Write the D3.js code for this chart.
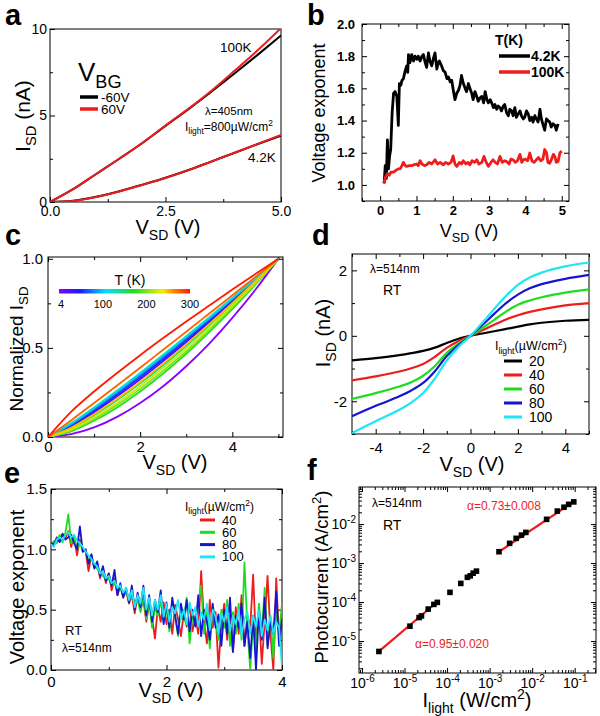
<!DOCTYPE html>
<html>
<head>
<meta charset="utf-8">
<script src="https://cdn.jsdelivr.net/npm/d3@7"></script>
<style>
  body { margin: 0; background: #fff; }
  svg text { font-family: "Liberation Sans", Arial, Helvetica, sans-serif; }
</style>
</head>
<body>
<div id="fig"></div>
<script>
// ---------- panel a : I-V at two gate voltages ----------
const aVsd = [0, 0.5, 1, 1.5, 2, 2.5, 3, 3.5, 4, 4.5, 5];
const a100Kneg = [0, 0.74, 1.62, 2.5, 3.41, 4.4, 5.37, 6.39, 7.44, 8.52, 9.62];
const a100Kpos = [0, 0.74, 1.62, 2.5, 3.42, 4.42, 5.4, 6.45, 7.6, 8.78, 10.05];
const a4Kneg = [0, 0.07, 0.3, 0.62, 1.0, 1.4, 1.85, 2.35, 2.85, 3.35, 3.84];
const a4Kpos = [0, 0.06, 0.29, 0.61, 0.99, 1.39, 1.84, 2.34, 2.85, 3.36, 3.88];

// ---------- panel b : voltage exponent ----------
const b4V = [0.11,0.14,0.17,0.20,0.23,0.26,0.29,0.33,0.37,0.41,0.46,0.50,0.53,0.57,0.60,0.64,0.69,0.73,0.76,0.78,0.82,0.87,0.92,0.96,1.01,1.05,1.10,1.15,1.19,1.24,1.28,1.33,1.37,1.42,1.47,1.51,1.56,1.60,1.63,1.69,1.74,1.79,1.84,1.88,1.93,1.97,2.02,2.06,2.11,2.16,2.20,2.24,2.29,2.34,2.38,2.43,2.47,2.52,2.56,2.61,2.66,2.70,2.75,2.80,2.85,2.89,2.94,2.98,3.03,3.07,3.12,3.16,3.21,3.25,3.30,3.34,3.39,3.43,3.48,3.53,3.57,3.62,3.66,3.71,3.75,3.80,3.85,3.89,3.94,3.98,4.03,4.08,4.12,4.17,4.21,4.26,4.30,4.35,4.40,4.44,4.49,4.53,4.58,4.62,4.67,4.71,4.76,4.81,4.85,4.90];
const b4E = [1.01,1.12,1.04,1.28,1.10,1.18,1.22,1.45,1.57,1.58,1.55,1.37,1.63,1.62,1.65,1.66,1.71,1.74,1.70,1.81,1.76,1.81,1.77,1.80,1.78,1.80,1.77,1.80,1.81,1.76,1.73,1.82,1.77,1.74,1.79,1.82,1.72,1.76,1.77,1.74,1.71,1.70,1.66,1.67,1.64,1.65,1.58,1.53,1.57,1.59,1.62,1.68,1.63,1.60,1.58,1.63,1.60,1.57,1.53,1.58,1.55,1.52,1.54,1.55,1.51,1.58,1.53,1.51,1.53,1.51,1.48,1.50,1.47,1.49,1.48,1.46,1.49,1.50,1.45,1.43,1.47,1.46,1.43,1.48,1.42,1.44,1.46,1.43,1.41,1.42,1.46,1.44,1.40,1.42,1.39,1.43,1.41,1.39,1.47,1.41,1.37,1.34,1.41,1.40,1.39,1.36,1.38,1.37,1.34,1.38];
const b100V = [0.10,0.15,0.20,0.25,0.30,0.37,0.43,0.50,0.55,0.60,0.64,0.69,0.73,0.80,0.88,0.92,1.00,1.05,1.10,1.15,1.22,1.28,1.35,1.42,1.51,1.58,1.65,1.74,1.80,1.88,1.95,2.01,2.06,2.11,2.18,2.24,2.29,2.36,2.42,2.47,2.53,2.60,2.66,2.72,2.80,2.86,2.92,2.98,3.05,3.11,3.17,3.23,3.30,3.36,3.42,3.48,3.55,3.60,3.66,3.72,3.78,3.85,3.90,3.94,4.00,4.06,4.12,4.18,4.24,4.30,4.36,4.42,4.48,4.53,4.58,4.62,4.67,4.72,4.77,4.81,4.85,4.90,4.95,5.00];
const b100E = [1.01,1.05,1.07,1.06,1.08,1.08,1.09,1.10,1.10,1.12,1.14,1.12,1.115,1.12,1.12,1.125,1.13,1.12,1.15,1.13,1.12,1.125,1.14,1.13,1.156,1.13,1.14,1.125,1.14,1.13,1.14,1.18,1.13,1.115,1.14,1.13,1.15,1.13,1.14,1.125,1.15,1.14,1.156,1.13,1.14,1.177,1.14,1.115,1.14,1.156,1.14,1.13,1.177,1.14,1.15,1.146,1.13,1.16,1.156,1.14,1.15,1.19,1.14,1.156,1.16,1.15,1.198,1.15,1.14,1.156,1.17,1.15,1.16,1.22,1.20,1.14,1.135,1.16,1.19,1.177,1.14,1.146,1.20,1.21];

// ---------- panel c : normalized I-V vs temperature ----------
const cVsd = [0, 0.5, 1, 1.5, 2, 2.5, 3, 3.5, 4, 4.5, 5];
const cTemps = [4, 25, 50, 75, 100, 125, 150, 175, 200, 225, 250, 275, 300];
const cNorm = [
  [0, 0.016, 0.054, 0.113, 0.191, 0.285, 0.397, 0.524, 0.668, 0.826, 1],
  [0, 0.059, 0.138, 0.228, 0.324, 0.426, 0.533, 0.645, 0.760, 0.878, 1],
  [0, 0.065, 0.147, 0.239, 0.336, 0.438, 0.545, 0.654, 0.767, 0.882, 1],
  [0, 0.069, 0.154, 0.247, 0.345, 0.447, 0.553, 0.661, 0.772, 0.885, 1],
  [0, 0.074, 0.162, 0.256, 0.355, 0.457, 0.561, 0.668, 0.777, 0.888, 1],
  [0, 0.077, 0.166, 0.261, 0.360, 0.462, 0.566, 0.672, 0.780, 0.889, 1],
  [0, 0.049, 0.122, 0.207, 0.301, 0.403, 0.512, 0.627, 0.747, 0.871, 1],
  [0, 0.032, 0.091, 0.166, 0.255, 0.356, 0.467, 0.588, 0.717, 0.855, 1],
  [0, 0.037, 0.100, 0.179, 0.270, 0.371, 0.481, 0.600, 0.727, 0.860, 1],
  [0, 0.043, 0.110, 0.192, 0.285, 0.387, 0.497, 0.614, 0.737, 0.866, 1],
  [0, 0.052, 0.128, 0.214, 0.309, 0.412, 0.520, 0.633, 0.751, 0.874, 1],
  [0, 0.093, 0.191, 0.289, 0.389, 0.490, 0.591, 0.693, 0.795, 0.897, 1],
  [0, 0.141, 0.255, 0.359, 0.459, 0.555, 0.648, 0.738, 0.827, 0.914, 1],
];
const cBarTicks = [4, 100, 200, 300];

// ---------- panel d : I-V vs light intensity ----------
const dVsd = [-5, -4, -3, -2.5, -2, -1.5, -1, -0.5, 0, 0.5, 1, 1.5, 2, 2.5, 3, 4, 5];
const dLight = [20, 40, 60, 80, 100];
const dCurrent = [
  [-0.75, -0.68, -0.59, -0.53, -0.46, -0.36, -0.22, -0.09, 0, 0.07, 0.14, 0.21, 0.28, 0.35, 0.40, 0.46, 0.49],
  [-1.36, -1.24, -1.09, -0.99, -0.86, -0.64, -0.37, -0.16, 0, 0.17, 0.34, 0.50, 0.63, 0.73, 0.81, 0.93, 1.0],
  [-1.93, -1.75, -1.55, -1.42, -1.22, -0.92, -0.52, -0.23, 0, 0.24, 0.49, 0.74, 0.95, 1.08, 1.18, 1.32, 1.42],
  [-2.46, -2.14, -1.85, -1.67, -1.44, -1.08, -0.62, -0.28, 0, 0.33, 0.67, 1.00, 1.26, 1.45, 1.58, 1.74, 1.86],
  [-2.97, -2.61, -2.26, -2.04, -1.75, -1.30, -0.75, -0.33, 0, 0.40, 0.82, 1.22, 1.56, 1.78, 1.93, 2.12, 2.24],
];
const lightColors = ['#000000', '#ee1c1c', '#1edc1e', '#1515d0', '#1ee6f5'];

// ---------- panel e : voltage exponent at RT (V step 0.05) ----------
const eStep = 0.05;
const eLight = [40, 60, 80, 100];
const eExp = [
  [1.06,1.03,1.10,1.08,1.12,1.09,1.15,1.02,1.12,0.95,
   1.08,1.00,0.98,0.82,0.95,0.85,0.88,0.76,0.84,0.72,
   0.80,0.66,0.76,0.62,0.70,0.60,0.66,0.55,0.62,0.47,
   0.62,0.50,0.58,0.40,0.55,0.44,0.26,0.52,0.40,0.56,
   0.38,0.50,0.30,0.54,0.42,0.28,0.48,0.36,0.55,0.32,
   0.44,0.30,0.82,0.40,0.22,0.58,0.35,0.48,0.02,0.38,
   0.55,0.25,0.45,0.15,0.52,0.30,0.62,0.20,0.45,0.35,
   0.79,0.22,0.48,0.05,0.40,0.78,0.30,0.00,0.76,0.25,0.45],
  [1.03,1.07,1.05,1.12,1.06,1.14,1.29,1.05,1.10,1.00,
   1.06,0.98,1.00,0.90,0.92,0.86,0.84,0.80,0.78,0.75,
   0.76,0.70,0.72,0.66,0.68,0.62,0.64,0.58,0.60,0.55,
   0.58,0.48,0.62,0.42,0.56,0.35,0.52,0.45,0.58,0.40,
   0.50,0.32,0.55,0.44,0.28,0.52,0.40,0.60,0.22,0.45,
   0.38,0.55,0.70,0.30,0.48,0.18,0.52,0.40,0.25,0.50,
   0.35,0.58,0.20,0.48,0.30,0.55,0.25,0.89,0.35,0.00,
   0.40,0.15,0.55,0.30,0.68,0.20,0.45,0.10,0.50,0.30,0.55],
  [1.05,1.04,1.09,1.06,1.13,1.08,1.10,1.12,1.05,1.00,
   1.19,0.98,1.00,0.88,0.96,0.84,0.90,0.78,0.86,0.74,
   0.80,0.70,0.83,0.62,0.72,0.60,0.68,0.56,0.70,0.50,
   0.64,0.52,0.70,0.45,0.62,0.40,0.58,0.48,0.66,0.38,
   0.56,0.35,0.60,0.45,0.30,0.55,0.42,0.58,0.32,0.50,
   0.36,0.62,0.28,0.50,0.40,0.25,0.55,0.35,0.46,0.20,
   0.50,0.30,0.60,0.15,0.45,0.35,0.55,0.20,0.40,0.10,
   0.45,0.00,0.50,0.25,0.60,0.18,0.40,0.30,0.65,0.20,0.42],
  [1.04,1.02,1.08,1.10,1.08,1.12,1.14,1.10,1.12,1.07,
   1.05,1.02,0.98,0.95,0.92,0.88,0.86,0.80,0.82,0.76,
   0.78,0.72,0.74,0.68,0.70,0.64,0.68,0.58,0.66,0.52,
   0.62,0.55,0.68,0.50,0.60,0.45,0.58,0.50,0.62,0.44,
   0.55,0.40,0.52,0.47,0.58,0.42,0.50,0.38,0.56,0.45,
   0.52,0.36,0.48,0.42,0.55,0.33,0.50,0.44,0.30,0.47,
   0.40,0.52,0.32,0.45,0.38,0.50,0.28,0.42,0.48,0.30,
   0.45,0.36,0.50,0.28,0.42,0.33,0.45,0.30,0.40,0.35,0.02],
];

// ---------- panel f : photocurrent vs intensity ----------
const fLight = [2.5e-6, 1.34e-5, 2.2e-5, 2.5e-5, 3.6e-5, 4.9e-5, 5.9e-5, 1.17e-4, 2.1e-4, 3.0e-4, 3.5e-4, 4.1e-4, 4.9e-4, 1.66e-3, 2.95e-3, 4.2e-3, 5.6e-3, 7.1e-3, 0.0218, 0.039, 0.056, 0.072, 0.095];
const fPhoto = [5.4e-6, 2.4e-5, 4.0e-5, 4.4e-5, 6.6e-5, 8.7e-5, 9.8e-5, 1.77e-4, 3.0e-4, 4.3e-4, 4.7e-4, 5.5e-4, 6.2e-4, 1.95e-3, 3.2e-3, 4.3e-3, 5.2e-3, 6.1e-3, 0.0132, 0.0215, 0.027, 0.032, 0.037];
const fFitLowX = [2.5e-6, 5.4e-5];
const fFitLowY = [5.4e-6, 9.3e-5];
const fFitHighX = [1.66e-3, 0.1];
const fFitHighY = [1.95e-3, 0.039];

const RED = '#ee1c1c';
const svg = d3.select('#fig').append('svg').attr('width', 600).attr('height', 716);

// text with sub/superscripts: parts = [[text], [text,'sub'], [text,'sup']]
function rich(sel, parts, size) {
  let cur = 0;
  parts.forEach(([t, k]) => {
    const off = k === 'sub' ? size * 0.28 : k === 'sup' ? -size * 0.4 : 0;
    sel.append('tspan').attr('dy', off - cur).attr('font-size', k ? size * 0.7 : size).text(t);
    cur = off;
  });
  return sel;
}

function txt(x, y, parts, size, o = {}) {
  const t = svg.append('text').attr('x', x).attr('y', y)
    .attr('text-anchor', o.anchor || 'start')
    .attr('fill', o.fill || '#000')
    .attr('font-weight', o.bold ? 'bold' : null);
  if (o.rotate) t.attr('transform', `rotate(-90,${x},${y})`);
  return rich(t, typeof parts === 'string' ? [[parts]] : parts, size);
}

function axesBox(g, x, y, w, h, o) {
  const none = () => '';
  const mk = (fn, scale, vals, len, fmt, pad, tr) => {
    const a = g.append('g').attr('transform', tr)
      .call(fn(scale).tickValues(vals).tickSize(-len).tickPadding(pad).tickFormat(fmt));
    a.select('.domain').remove();
    a.selectAll('.tick line').attr('stroke', '#000');
    a.selectAll('.tick text').attr('font-size', o.fs).attr('fill', '#000')
      .attr('font-weight', o.bold ? 'bold' : null);
    return a;
  };
  const xa = mk(d3.axisBottom, x, o.xMajor, 5, o.xFmt, o.xPad, `translate(0,${h})`);
  mk(d3.axisBottom, x, o.xMinor, 3, none, 0, `translate(0,${h})`);
  const ya = mk(d3.axisLeft, y, o.yMajor, 5, o.yFmt, o.yPad, null);
  mk(d3.axisLeft, y, o.yMinor, 3, none, 0, null);
  if (o.box) {
    mk(d3.axisTop, x, o.xMajor, 5, none, 0, null);
    mk(d3.axisTop, x, o.xMinor, 3, none, 0, null);
    mk(d3.axisRight, y, o.yMajor, 5, none, 0, `translate(${w},0)`);
    mk(d3.axisRight, y, o.yMinor, 3, none, 0, `translate(${w},0)`);
  }
  g.append('rect').attr('width', w).attr('height', h).attr('fill', 'none').attr('stroke', '#000');
  return { xa, ya };
}

let clipN = 0;
function panel(box, x, y, o) {
  x.range([0, box.w]);
  y.range([box.h, 0]);
  const g = svg.append('g').attr('transform', `translate(${box.left},${box.top})`);
  const id = 'clip' + (clipN++);
  g.append('clipPath').attr('id', id).append('rect').attr('width', box.w).attr('height', box.h);
  const ax = axesBox(g, x, y, box.w, box.h, o);
  const plot = g.append('g').attr('clip-path', `url(#${id})`);
  return { g, plot, ax };
}

const fmt1 = d3.format('.1f');
const plain = (d) => String(d);

// ================= a =================
{
  const x = d3.scaleLinear().domain([0, 5]);
  const y = d3.scaleLinear().domain([0, 10]);
  const p = panel({ left: 50, top: 29, w: 231, h: 173 }, x, y, {
    xMajor: [0, 2.5, 5], xMinor: [1.25, 3.75], yMajor: [0, 5, 10], yMinor: [2.5, 7.5],
    xFmt: fmt1, yFmt: plain, xPad: 4, yPad: 3, fs: 14,
  });
  const line = d3.line().x((d) => x(d[0])).y((d) => y(d[1])).curve(d3.curveMonotoneX);
  [[a100Kneg, '#000'], [a100Kpos, RED], [a4Kneg, '#000'], [a4Kpos, RED]].forEach(([vals, c]) => {
    p.plot.append('path').datum(aVsd.map((v, i) => [v, vals[i]]))
      .attr('d', line).attr('fill', 'none').attr('stroke', c).attr('stroke-width', 2);
  });
  txt(5, 25, 'a', 29, { bold: true });
  txt(30, 116, [['I'], ['SD', 'sub'], [' (nA)']], 21, { anchor: 'middle', rotate: true });
  txt(168, 234, [['V'], ['SD', 'sub'], [' (V)']], 20, { anchor: 'middle' });
  txt(220, 52, '100K', 13.5);
  txt(248, 162, '4.2K', 13.5);
  txt(205, 115, 'λ=405nm', 11.5);
  txt(185, 131, [['I'], ['light', 'sub'], ['=800µW/cm'], ['2', 'sup']], 12);
  txt(78, 81, [['V'], ['BG', 'sub']], 26);
  [['-60V', '#000', 97], ['60V', RED, 109]].forEach(([t, c, yy]) => {
    svg.append('line').attr('x1', 80).attr('x2', 98).attr('y1', yy).attr('y2', yy)
      .attr('stroke', c).attr('stroke-width', 3.5);
    txt(101, yy + 5, t, 13.5);
  });
}

// ================= b =================
{
  const x = d3.scaleLinear().domain([-0.5, 5.2]);
  const y = d3.scaleLinear().domain([0.9, 2.0]);
  const p = panel({ left: 362, top: 24, w: 207, h: 177 }, x, y, {
    xMajor: [0, 1, 2, 3, 4, 5], xMinor: [-0.5, 0.5, 1.5, 2.5, 3.5, 4.5],
    yMajor: [1.0, 1.2, 1.4, 1.6, 1.8, 2.0], yMinor: [0.9, 1.1, 1.3, 1.5, 1.7, 1.9],
    xFmt: plain, yFmt: fmt1, xPad: 5, yPad: 7, fs: 13, bold: true, box: true,
  });
  const line = d3.line().x((d) => x(d[0])).y((d) => y(d[1]));
  [[b4V, b4E, '#000'], [b100V, b100E, RED]].forEach(([vs, es, c]) => {
    p.plot.append('path').datum(vs.map((v, i) => [v, es[i]]))
      .attr('d', line).attr('fill', 'none').attr('stroke', c)
      .attr('stroke-width', 2.8).attr('stroke-linejoin', 'round');
  });
  txt(307, 25, 'b', 29, { bold: true });
  txt(325, 113, 'Voltage exponent', 18, { anchor: 'middle', rotate: true });
  txt(469, 237, [['V'], ['SD', 'sub'], [' (V)']], 18, { anchor: 'middle' });
  txt(495, 45, 'T(K)', 14, { bold: true });
  [['4.2K', '#000', 56], ['100K', RED, 72]].forEach(([t, c, yy]) => {
    svg.append('line').attr('x1', 499).attr('x2', 530).attr('y1', yy).attr('y2', yy)
      .attr('stroke', c).attr('stroke-width', 3.5);
    txt(531, yy + 5, t, 14, { bold: true });
  });
}

// ================= c =================
const tempColor = d3.scaleLinear()
  .domain([4, 51, 110, 173, 238, 262, 300])
  .range(['#8a00ff', '#1a1aff', '#00e0ff', '#22dd22', '#f2ee00', '#ff8800', '#ff1a00']);
{
  const x = d3.scaleLinear().domain([0, 5.1]);
  const y = d3.scaleLinear().domain([0, 1.01]);
  const p = panel({ left: 48, top: 257, w: 235, h: 180 }, x, y, {
    xMajor: [0, 2, 4], xMinor: [1, 3, 5], yMajor: [0, 0.5, 1], yMinor: [0.25, 0.75],
    xFmt: plain, yFmt: fmt1, xPad: 4, yPad: 5, fs: 15, box: true,
  });
  const line = d3.line().x((d) => x(d[0])).y((d) => y(d[1])).curve(d3.curveMonotoneX);
  cTemps.forEach((t, k) => {
    p.plot.append('path').datum(cVsd.map((v, i) => [v, cNorm[k][i]]))
      .attr('d', line).attr('fill', 'none').attr('stroke', tempColor(t)).attr('stroke-width', 1.8);
  });
  // colour bar
  const bar = d3.scaleLinear().domain([4, 300]).range([61, 190]);
  const grad = svg.append('defs').append('linearGradient').attr('id', 'tgrad');
  tempColor.domain().forEach((t) => {
    grad.append('stop').attr('offset', (t - 4) / 296).attr('stop-color', tempColor(t));
  });
  svg.append('rect').attr('x', bar(4) - 2).attr('y', 289).attr('width', bar(300) - bar(4) + 2)
    .attr('height', 4.5).attr('fill', 'url(#tgrad)');
  cBarTicks.forEach((t) => txt(bar(t), 308, String(t), 11, { anchor: 'middle' }));
  txt(130, 285, 'T (K)', 14, { anchor: 'middle' });
  txt(5, 245, 'c', 29, { bold: true });
  txt(23, 349, [['Normalized I'], ['SD', 'sub']], 19, { anchor: 'middle', rotate: true });
  txt(175, 469, [['V'], ['SD', 'sub'], [' (V)']], 20, { anchor: 'middle' });
}

// ================= d =================
{
  const x = d3.scaleLinear().domain([-5, 5]);
  const y = d3.scaleLinear().domain([-3, 2.5]);
  const p = panel({ left: 352, top: 254, w: 237, h: 180 }, x, y, {
    xMajor: [-4, -2, 0, 2, 4], xMinor: [-5, -3, -1, 1, 3, 5], yMajor: [-2, 0, 2], yMinor: [-3, -1, 1],
    xFmt: plain, yFmt: plain, xPad: 8, yPad: 5, fs: 15, box: true,
  });
  const line = d3.line().x((d) => x(d[0])).y((d) => y(d[1])).curve(d3.curveCatmullRom.alpha(0.5));
  dLight.forEach((L, k) => {
    p.plot.append('path').datum(dVsd.map((v, i) => [v, dCurrent[k][i]]))
      .attr('d', line).attr('fill', 'none').attr('stroke', lightColors[k]).attr('stroke-width', 2.2);
  });
  txt(312, 245, 'd', 29, { bold: true });
  txt(330, 333, [['I'], ['SD', 'sub'], [' (nA)']], 20, { anchor: 'middle', rotate: true });
  txt(472, 471, [['V'], ['SD', 'sub'], [' (V)']], 20, { anchor: 'middle' });
  txt(370, 273, 'λ=514nm', 12);
  txt(383, 295, 'RT', 14);
  txt(495, 350, [['I'], ['light', 'sub'], ['(µW/cm'], ['2', 'sup'], [')']], 12.5);
  dLight.forEach((L, k) => {
    const yy = 361 + k * 14;
    svg.append('line').attr('x1', 504).attr('x2', 522).attr('y1', yy).attr('y2', yy)
      .attr('stroke', lightColors[k]).attr('stroke-width', 3);
    txt(529, yy + 5, String(L), 14);
  });
}

// ================= e =================
{
  const x = d3.scaleLinear().domain([0, 4]);
  const y = d3.scaleLinear().domain([0, 1.5]);
  const p = panel({ left: 51, top: 489, w: 231, h: 181 }, x, y, {
    xMajor: [0, 2, 4], xMinor: [1, 3], yMajor: [0, 0.5, 1, 1.5], yMinor: [0.25, 0.75, 1.25],
    xFmt: plain, yFmt: fmt1, xPad: 6, yPad: 4, fs: 15, box: true,
  });
  const line = d3.line().x((d, i) => x(i * eStep)).y((d) => y(d));
  eLight.forEach((L, k) => {
    p.plot.append('path').datum(eExp[k])
      .attr('d', line).attr('fill', 'none').attr('stroke', lightColors[k + 1])
      .attr('stroke-width', 1.8).attr('stroke-linejoin', 'round');
  });
  txt(4, 483, 'e', 29, { bold: true });
  txt(24, 587, 'Voltage exponent', 20, { anchor: 'middle', rotate: true });
  txt(171, 697, [['V'], ['SD', 'sub'], [' (V)']], 20, { anchor: 'middle' });
  txt(65, 635, 'RT', 13);
  txt(62, 652, 'λ=514nm', 12);
  txt(185, 511, [['I'], ['light', 'sub'], ['(µW/cm'], ['2', 'sup'], [')']], 12);
  eLight.forEach((L, k) => {
    const yy = 520 + k * 12.3;
    svg.append('line').attr('x1', 200).attr('x2', 215).attr('y1', yy).attr('y2', yy)
      .attr('stroke', lightColors[k + 1]).attr('stroke-width', 3);
    txt(222, yy + 4.5, String(L), 13);
  });
}

// ================= f =================
{
  const x = d3.scaleLog().domain([10 ** -6.07, 10 ** -0.5]);
  const y = d3.scaleLog().domain([10 ** -5.82, 10 ** -1.05]);
  const decades = (lo, hi) => d3.range(lo, hi + 1).map((e) => 10 ** e);
  const minors = (sc) => {
    const [a, b] = sc.domain();
    const out = [];
    for (let e = -7; e <= 0; e++) for (let m = 2; m <= 9; m++) {
      const v = m * 10 ** e;
      if (v > a && v < b) out.push(v);
    }
    return out;
  };
  const p = panel({ left: 359, top: 487, w: 237, h: 186 }, x, y, {
    xMajor: decades(-6, -1), xMinor: minors(x), yMajor: decades(-5, -2), yMinor: minors(y),
    xFmt: () => '', yFmt: () => '', xPad: 5, yPad: 3, fs: 14, box: true,
  });
  const expo = (sel) => sel.selectAll('.tick text').each(function (d) {
    const t = d3.select(this);
    t.append('tspan').text('10');
    t.append('tspan').attr('dy', -6).attr('font-size', 10).text(String(Math.round(Math.log10(d))));
  });
  expo(p.ax.xa);
  expo(p.ax.ya);
  const line = d3.line().x((d) => x(d[0])).y((d) => y(d[1]));
  [[fFitLowX, fFitLowY], [fFitHighX, fFitHighY]].forEach(([xs, ys]) => {
    p.plot.append('path').datum(xs.map((v, i) => [v, ys[i]]))
      .attr('d', line).attr('stroke', RED).attr('stroke-width', 2.2).attr('fill', 'none');
  });
  p.plot.selectAll('rect.pt').data(fLight.map((v, i) => [v, fPhoto[i]])).join('rect')
    .attr('class', 'pt').attr('x', (d) => x(d[0]) - 2.8).attr('y', (d) => y(d[1]) - 2.8)
    .attr('width', 5.6).attr('height', 5.6).attr('fill', '#000');
  txt(307, 480, 'f', 29, { bold: true });
  txt(328, 577, [['Photocurrent (A/cm'], ['2', 'sup'], [')']], 18.5, { anchor: 'middle', rotate: true });
  txt(477, 707, [['I'], ['light', 'sub'], [' (W/cm'], ['2', 'sup'], [')']], 20, { anchor: 'middle' });
  txt(372, 507, 'λ=514nm', 12);
  txt(383, 530, 'RT', 14);
  txt(467, 510, 'α=0.73±0.008', 12, { fill: RED });
  txt(415, 648, 'α=0.95±0.020', 12, { fill: RED });
}
</script>
</body>
</html>
